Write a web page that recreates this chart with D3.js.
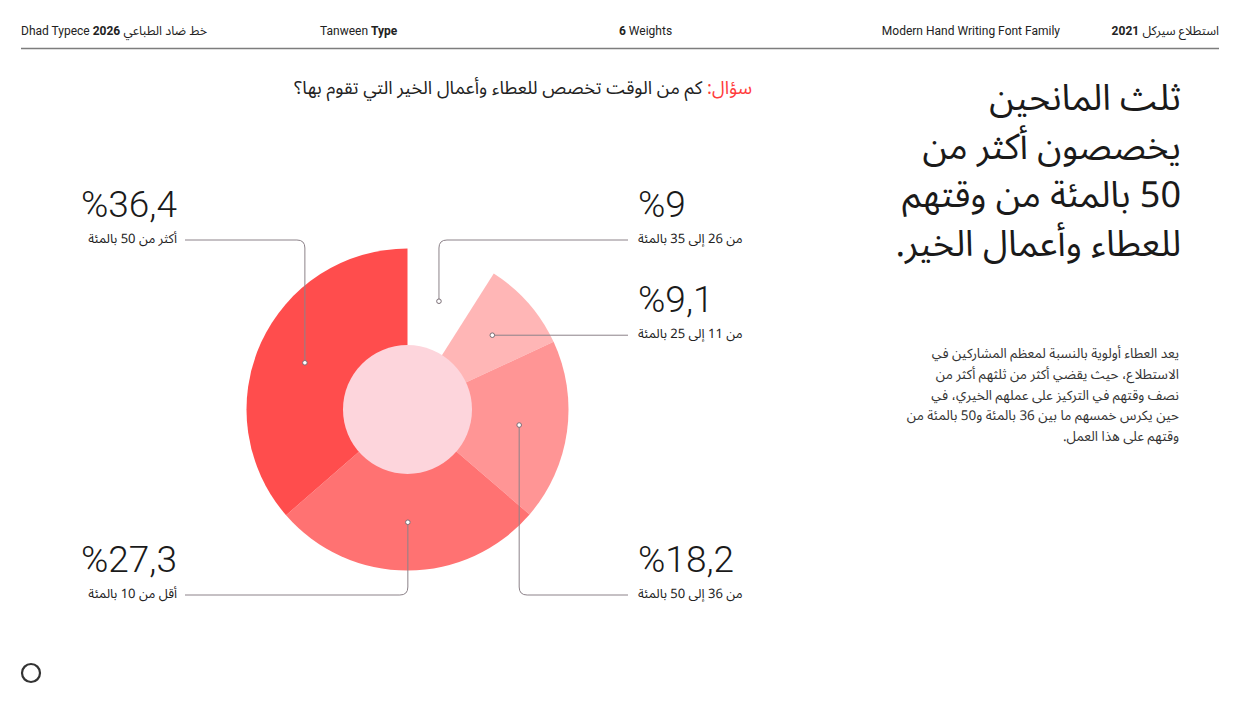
<!DOCTYPE html>
<html><head><meta charset="utf-8">
<script src="https://cdn.jsdelivr.net/npm/d3@7"></script>
<style>
html,body{margin:0;padding:0;background:#fff;}
body{position:relative;width:1240px;height:711px;overflow:hidden;}
svg{display:block;position:absolute;left:0;top:0;}
.lat{font-family:Roboto,"Liberation Sans",sans-serif;}
.ar{font-family:"Noto Sans Arabic","Noto Naskh Arabic","DejaVu Sans",sans-serif;}
.arui{font-family:"Noto Sans Arabic UI","Noto Sans Arabic","DejaVu Sans",sans-serif;}
.block{position:absolute;direction:rtl;text-align:right;white-space:nowrap;margin:0;}
</style></head>
<body>
<script>
// ---- data ----
const categories = ["من 26 إلى 35 بالمئة","من 11 إلى 25 بالمئة","من 36 إلى 50 بالمئة","أقل من 10 بالمئة","أكثر من 50 بالمئة"];
const values = [9, 9.1, 18.2, 27.3, 36.4];
const valueLabels = ["%9","%9,1","%18,2","%27,3","%36,4"];
const sliceColors = ["#ffffff","#ffb6b6","#ff9595","#ff7272","#ff4d4d"];
const headerItems = ["Dhad Typece 2026 خط ضاد الطباعي","Tanween Type","6 Weights","Modern Hand Writing Font Family","2021 استطلاع سيركل"];
const titleLines = ["ثلث المانحين","يخصصون أكثر من","50 بالمئة من وقتهم","للعطاء وأعمال الخير."];
const bodyLines = ["يعد العطاء أولوية بالنسبة لمعظم المشاركين في","الاستطلاع، حيث يقضي أكثر من ثلثهم أكثر من","نصف وقتهم في التركيز على عملهم الخيري، في","حين يكرس خمسهم ما بين 36 بالمئة و50 بالمئة من","وقتهم على هذا العمل."];
const questionLabel = "سؤال:";
const questionText = " كم من الوقت تخصص للعطاء وأعمال الخير التي تقوم بها؟";

// ---- layout (positions, not data) ----
const W = 1240, H = 711;
const cx = 407.5, cy = 409.5, R = 161, r0 = 64.5;
const leaders = [
  {side:"right", ly:240, vertical:true},
  {side:"right", ly:null, vertical:false},
  {side:"right", ly:595, vertical:true},
  {side:"left",  ly:595, vertical:true},
  {side:"left",  ly:240, vertical:true}
];
const leftEnd = 185, rightEnd = 628, leftText = 177, rightText = 638;

const svg = d3.select("body").append("svg").attr("width",W).attr("height",H);

// header
const hdr = svg.append("g").attr("fill","#222").attr("font-size",12);
const h0 = hdr.append("text").attr("class","lat").attr("x",21).attr("y",35);
h0.append("tspan").text("Dhad Typece ");
h0.append("tspan").attr("font-weight",700).text("2026");
h0.append("tspan").attr("class","ar").attr("font-size",12.5).text(" خط ضاد الطباعي");
const h1 = hdr.append("text").attr("class","lat").attr("x",320).attr("y",35);
h1.append("tspan").text("Tanween ");
h1.append("tspan").attr("font-weight",700).text("Type");
const h2 = hdr.append("text").attr("class","lat").attr("x",619).attr("y",35);
h2.append("tspan").attr("font-weight",700).text("6");
h2.append("tspan").text(" Weights");
hdr.append("text").attr("class","lat").attr("x",1060).attr("y",35).attr("text-anchor","end").text(headerItems[3]);
const h4 = hdr.append("text").attr("class","lat").attr("x",1219).attr("y",35).attr("text-anchor","end");
h4.append("tspan").attr("font-weight",700).text("2021");
h4.append("tspan").attr("class","ar").attr("font-size",12.5).text(" استطلاع سيركل");
svg.append("line").attr("x1",21).attr("x2",1219).attr("y1",48.5).attr("y2",48.5)
  .attr("stroke","#7d7d7d").attr("stroke-width",1.5);

// question
const q = svg.append("text").attr("class","ar").attr("direction","rtl").attr("text-anchor","start")
  .attr("x",752).attr("y",94).attr("font-size",18.3).attr("fill","#222");
q.append("tspan").attr("fill","#ff3b3b").text(questionLabel);
q.append("tspan").text(questionText);

// title block (HTML, multi-line)
const title = d3.select("body").append("div").attr("class","block arui")
  .style("right",(W-1181)+"px").style("top","73px")
  .style("font-size","36px").style("line-height","48.5px").style("color","#1a1a1a");
title.html(titleLines.join("<br>"));

// body paragraph (HTML, multi-line)
const body = d3.select("body").append("div").attr("class","block arui")
  .style("right",(W-1179)+"px").style("top","343px")
  .style("font-size","13.5px").style("line-height","20.8px").style("color","#333");
body.html(bodyLines.join("<br>"));

// pie
const pie = d3.pie().sort(null).value(d=>d).startAngle(0).endAngle(2*Math.PI);
const arcs = pie(values);
const arc = d3.arc().innerRadius(0).outerRadius(R);
const cArc = d3.arc().innerRadius(r0).outerRadius(R);
const g = svg.append("g").attr("transform",`translate(${cx},${cy})`);
g.selectAll("path").data(arcs).join("path")
  .attr("d",arc).attr("fill",(d,i)=>sliceColors[i]);
g.append("circle").attr("r",r0).attr("fill","#fdd5dc");

// leaders + labels
const lg = svg.append("g");
arcs.forEach((a,i)=>{
  const [dx,dy] = cArc.centroid(a);
  const px = cx+dx, py = cy+dy;
  const L = leaders[i];
  const endX = L.side==="left" ? leftEnd : rightEnd;
  const ly = L.vertical ? L.ly : py;
  let path;
  if(L.vertical){
    const rc = 8;
    const sx = Math.sign(endX-px), sy = Math.sign(ly-py);
    path = `M${px},${py}V${ly - sy*rc}Q${px},${ly} ${px+sx*rc},${ly}H${endX}`;
  } else {
    path = `M${px},${py}H${endX}`;
  }
  lg.append("path").attr("d",path).attr("fill","none").attr("stroke","#8c8289").attr("stroke-width",1);
  lg.append("circle").attr("cx",px).attr("cy",py).attr("r",2.3).attr("fill","#fff")
    .attr("stroke","#7a6e76").attr("stroke-width",1);
  const tx = L.side==="left" ? leftText : rightText;
  const anchor = L.side==="left" ? "end" : "start";
  lg.append("text").attr("class","lat").attr("x",tx).attr("y",ly-23)
    .attr("text-anchor",anchor).attr("font-size",37).attr("font-weight",300)
    .attr("fill","#1a1a1a").text(valueLabels[i]);
  lg.append("text").attr("class","arui").attr("direction","rtl")
    .attr("text-anchor", L.side==="left" ? "start" : "end")
    .attr("x",tx).attr("y",ly+2.5).attr("font-size",13).attr("fill","#222").text(categories[i]);
});

// bottom-left ring
svg.append("circle").attr("cx",31).attr("cy",673).attr("r",9).attr("fill","none")
  .attr("stroke","#333").attr("stroke-width",2.2);
</script>
</body></html>
